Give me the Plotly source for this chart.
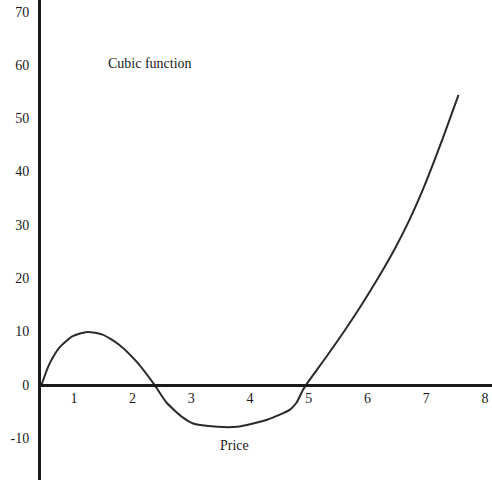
import plotly.graph_objects as go

# Curve sampled along its length (price on x, function value on y)
price = [0.45, 0.58, 0.75, 0.98, 1.23, 1.49, 1.77, 2.06, 2.37, 2.58, 2.86,
         3.03, 3.44, 3.78, 4.29, 4.68, 4.79, 4.90, 4.97, 5.33, 5.62, 5.90,
         6.18, 6.47, 6.70, 6.95, 7.24, 7.55]
value = [0.0, 3.8, 6.9, 9.1, 9.9, 9.4, 7.5, 4.4, 0.0, -3.4, -6.2,
         -7.3, -7.9, -7.9, -6.6, -4.7, -3.4, -1.0, 0.2, 5.7, 10.3, 15.0,
         20.0, 25.6, 30.6, 36.8, 45.0, 54.4]

x_ticks = [1, 2, 3, 4, 5, 6, 7, 8]
y_ticks = [-10, 0, 10, 20, 30, 40, 50, 60, 70]

x_range = [0.44, 8.12]
y_range = [-17.9, 72.2]

FONT = "Liberation Serif, Times New Roman, serif"
INK = "#1a1a1a"

fig = go.Figure()
fig.add_trace(go.Scatter(
    x=price, y=value, mode="lines",
    line=dict(color="#2a2a2a", width=2, shape="spline", smoothing=0.6),
    hoverinfo="skip", showlegend=False,
))

# place the horizontal axis where y = 0
zero_pos = (0 - y_range[0]) / (y_range[1] - y_range[0])

fig.update_layout(
    width=492, height=480,
    margin=dict(l=41, r=0, t=0, b=0),
    paper_bgcolor="white", plot_bgcolor="white",
    font=dict(family=FONT, size=14, color=INK),
    xaxis=dict(
        range=x_range, tickvals=x_ticks, ticktext=[str(v) for v in x_ticks],
        showgrid=False, zeroline=False, showline=True, linecolor=INK,
        linewidth=3, anchor="free", position=zero_pos, ticks="",
        tickfont=dict(family=FONT, size=14, color=INK),
        ticklabelstandoff=0,
    ),
    yaxis=dict(
        range=y_range, tickvals=y_ticks, ticktext=[str(v) for v in y_ticks],
        showgrid=False, zeroline=False, showline=True, linecolor=INK,
        linewidth=3, ticks="",
        tickfont=dict(family=FONT, size=14, color=INK),
        ticklabelstandoff=6,
    ),
    annotations=[
        dict(x=2.29, y=60.2, text="Cubic function", showarrow=False,
             font=dict(family=FONT, size=14, color=INK)),
        dict(x=3.74, y=-11.4, text="Price", showarrow=False,
             font=dict(family=FONT, size=14, color=INK)),
    ],
)

fig.write_html("out.html")
